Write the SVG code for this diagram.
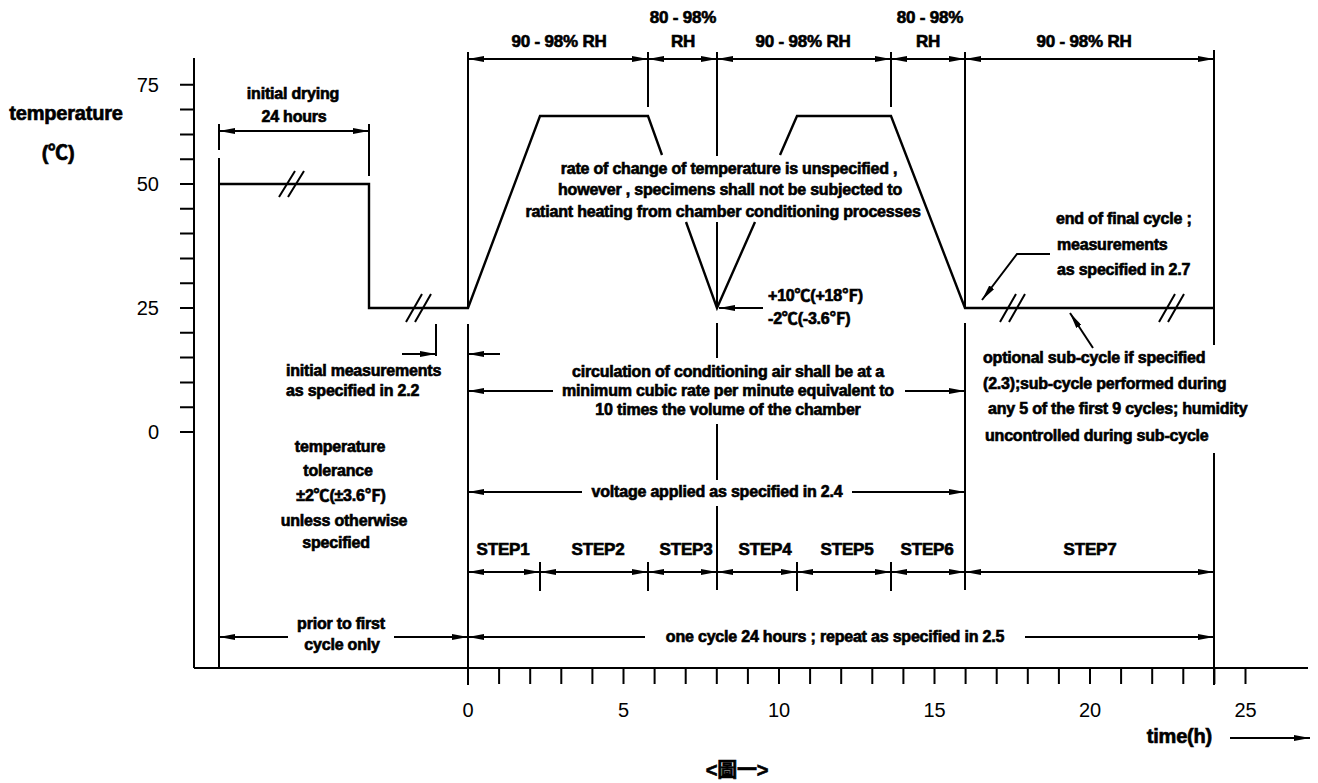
<svg xmlns="http://www.w3.org/2000/svg" width="1318" height="783" viewBox="0 0 1318 783">
<defs>
<marker id="ah" markerUnits="userSpaceOnUse" markerWidth="16" markerHeight="6" refX="16" refY="3" orient="auto-start-reverse" viewBox="0 0 16 6">
<path d="M0,0 L16,3 L0,6 Z" fill="#000"/>
</marker>
<style>
.ln{stroke:#000;stroke-width:2;fill:none}
.pf{stroke:#000;stroke-width:2.4;fill:none}
.dm{stroke:#000;stroke-width:2;fill:none;marker-start:url(#ah);marker-end:url(#ah)}
.ar{stroke:#000;stroke-width:2;fill:none;marker-end:url(#ah)}
.t{font-family:"Liberation Sans","Noto Sans CJK SC",Arial,sans-serif;font-weight:bold;font-size:16px;fill:#000;stroke:#000;stroke-width:0.65;letter-spacing:-0.2px}
.b17{font-size:17px}
.b20{font-size:20px}
.c{text-anchor:middle}
.e{text-anchor:end}
.n{font-family:"Liberation Sans",Arial,sans-serif;font-size:20px;fill:#000}
</style>
</defs>
<rect width="1318" height="783" fill="#fff"/>

<g id="axes">
<path class="ln" d="M194,58V668M194,668H1308"/>
<path class="ln" d="M180,432H194M180,407.2H194M180,382.4H194M180,357.6H194M180,332.8H194M180,308H194M180,283.2H194M180,258.4H194M180,233.6H194M180,208.8H194M180,184H194M180,159.2H194M180,134.4H194M180,109.6H194M180,84.8H194"/>
<path class="ln" d="M468,668V684M499.1,668V684M530.2,668V684M561.3,668V684M592.4,668V684M623.5,668V684M654.6,668V684M685.7,668V684M716.8,668V684M747.9,668V684M779,668V684M810.1,668V684M841.2,668V684M872.3,668V684M903.4,668V684M934.5,668V684M965.6,668V684M996.7,668V684M1027.8,668V684M1058.9,668V684M1090,668V684M1121.1,668V684M1152.2,668V684M1183.3,668V684M1214.4,668V684M1245.5,668V684"/>
<text class="n e" x="159" y="92">75</text>
<text class="n e" x="159" y="191">50</text>
<text class="n e" x="159" y="315">25</text>
<text class="n e" x="159" y="439">0</text>
<text class="n c" x="468" y="717">0</text>
<text class="n c" x="623.5" y="717">5</text>
<text class="n c" x="779" y="717">10</text>
<text class="n c" x="934.5" y="717">15</text>
<text class="n c" x="1090" y="717">20</text>
<text class="n c" x="1245.5" y="717">25</text>
<text class="t b20 c" x="66" y="120">temperature</text>
<text class="t b20 c" x="58" y="160">(℃)</text>
<text class="t b20 e" x="1212" y="743">time(h)</text>
<text class="t b20 c" x="737" y="777">&lt;圖一&gt;</text>
</g>

<g id="profile">
<polyline class="pf" points="219,184 369,184 369,308 468,308 540,116 648,116 662,155"/>
<polyline class="pf" points="686,222 717,308 755,222"/>
<polyline class="pf" points="780,155 797,116 891,116 965,308 1214,308"/>
<path class="ln" d="M279,197L295,171M288,197L304,171"/>
<path class="ln" d="M406,322L422,294M415,322L431,294"/>
<path class="ln" d="M1000,322L1016,294M1009,322L1025,294"/>
<path class="ln" d="M1159,322L1175,294M1168,322L1184,294"/>
</g>

<g id="extension-lines">
<path class="ln" d="M468,52V308M468,324V685M648,52V107M717,52V156M717,222V308M717,323V358M717,424V480M717,506V590M891,52V107M965,52V308M965,323V590M1214,50V345M1214,453V685M219,124V150M219,158V668M369,124V176M436,324V356M540,562V591M648,562V591M797,562V591M891,562V591"/>
</g>

<g id="connectors">
<line class="dm" x1="468" y1="59" x2="648" y2="59"/>
<line class="dm" x1="648" y1="59" x2="717" y2="59"/>
<line class="dm" x1="717" y1="59" x2="891" y2="59"/>
<line class="dm" x1="891" y1="59" x2="965" y2="59"/>
<line class="dm" x1="965" y1="59" x2="1214" y2="59"/>
<line class="dm" x1="219" y1="131" x2="369" y2="131"/>
<line class="ar" x1="402" y1="354" x2="436" y2="354"/>
<line class="ar" x1="500" y1="354" x2="468" y2="354"/>
<line class="ar" x1="553" y1="391" x2="468" y2="391"/>
<line class="ar" x1="905" y1="391" x2="965" y2="391"/>
<line class="ar" x1="582" y1="492" x2="468" y2="492"/>
<line class="ar" x1="852" y1="492" x2="965" y2="492"/>
<line class="dm" x1="468" y1="572" x2="540" y2="572"/>
<line class="dm" x1="540" y1="572" x2="648" y2="572"/>
<line class="dm" x1="648" y1="572" x2="717" y2="572"/>
<line class="dm" x1="717" y1="572" x2="797" y2="572"/>
<line class="dm" x1="797" y1="572" x2="891" y2="572"/>
<line class="dm" x1="891" y1="572" x2="965" y2="572"/>
<line class="dm" x1="965" y1="572" x2="1214" y2="572"/>
<line class="ar" x1="288" y1="637" x2="219" y2="637"/>
<line class="ar" x1="394" y1="637" x2="468" y2="637"/>
<line class="ar" x1="645" y1="637" x2="468" y2="637"/>
<line class="ar" x1="1025" y1="637" x2="1214" y2="637"/>
<line class="ar" x1="763" y1="308" x2="719" y2="308"/>
<polyline class="ar" points="1050,254 1017,254 982,300"/>
<line class="ar" x1="1093" y1="348" x2="1070" y2="313"/>
<line class="ar" x1="1230" y1="738" x2="1310" y2="738"/>
</g>

<g id="rh-labels">
<text class="t b17 c" x="559" y="47">90 - 98% RH</text>
<text class="t b17 c" x="683" y="23">80 - 98%</text>
<text class="t b17 c" x="683" y="47">RH</text>
<text class="t b17 c" x="803" y="47">90 - 98% RH</text>
<text class="t b17 c" x="930" y="23">80 - 98%</text>
<text class="t b17 c" x="928" y="47">RH</text>
<text class="t b17 c" x="1084" y="47">90 - 98% RH</text>
</g>

<g id="initial-drying">
<text class="t c" x="293" y="99">initial drying</text>
<text class="t c" x="294" y="122">24 hours</text>
</g>

<g id="rate-note">
<text class="t c" x="729" y="174">rate of change of temperature is unspecified ,</text>
<text class="t c" x="730" y="195">however , specimens shall not be subjected to</text>
<text class="t c" x="723" y="217">ratiant heating from chamber conditioning processes</text>
</g>

<g id="tolerance-note">
<text class="t" x="768" y="301">+10℃(+18℉)</text>
<text class="t" x="768" y="324">-2℃(-3.6℉)</text>
</g>

<g id="final-cycle-note">
<text class="t" x="1056" y="224">end of final cycle ;</text>
<text class="t" x="1057" y="250">measurements</text>
<text class="t" x="1057" y="275">as specified in 2.7</text>
</g>

<g id="sub-cycle-note">
<text class="t" x="983" y="363">optional sub-cycle if specified</text>
<text class="t" x="983" y="389">(2.3);sub-cycle performed during</text>
<text class="t" x="988" y="414">any 5 of the first 9 cycles; humidity</text>
<text class="t" x="985" y="441">uncontrolled during sub-cycle</text>
</g>

<g id="initial-measurements">
<text class="t" x="286" y="376">initial measurements</text>
<text class="t" x="286" y="396">as specified in 2.2</text>
</g>

<g id="circulation-note">
<text class="t c" x="728" y="377">circulation of conditioning air shall be at a</text>
<text class="t c" x="728" y="396">minimum cubic rate per  minute equivalent to</text>
<text class="t c" x="728" y="415">10 times the volume of the chamber</text>
</g>

<g id="voltage-note">
<text class="t c" x="717" y="497">voltage applied as specified in 2.4</text>
</g>

<g id="temperature-tolerance">
<text class="t c" x="340" y="452">temperature</text>
<text class="t c" x="338" y="476">tolerance</text>
<text class="t c" x="341" y="501">±2℃(±3.6℉)</text>
<text class="t c" x="344" y="526">unless otherwise</text>
<text class="t c" x="336" y="548">specified</text>
</g>

<g id="steps">
<text class="t b17 c" x="503" y="555">STEP1</text>
<text class="t b17 c" x="598" y="555">STEP2</text>
<text class="t b17 c" x="686" y="555">STEP3</text>
<text class="t b17 c" x="765" y="555">STEP4</text>
<text class="t b17 c" x="847" y="555">STEP5</text>
<text class="t b17 c" x="927" y="555">STEP6</text>
<text class="t b17 c" x="1090" y="555">STEP7</text>
</g>

<g id="cycle-labels">
<text class="t c" x="341" y="629">prior to first</text>
<text class="t c" x="342" y="650">cycle only</text>
<text class="t c" x="835" y="642">one cycle 24 hours ; repeat as specified in 2.5</text>
</g>
</svg>
